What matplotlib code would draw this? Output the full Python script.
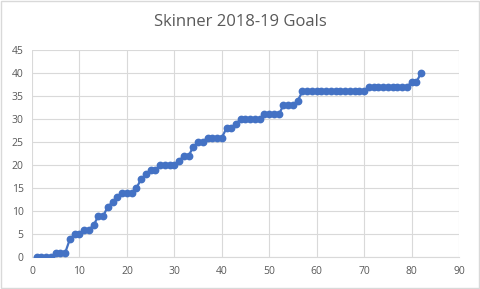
import matplotlib
matplotlib.use("Agg")
import matplotlib.pyplot as plt
from matplotlib.patches import Rectangle

# cumulative goals by game
games = list(range(1, 83))
level_values = [0, 1, 4, 5, 6, 7, 9, 11, 12, 13, 14, 15, 17, 18, 19, 20, 21, 22, 24, 25,
                26, 28, 29, 30, 31, 33, 34, 36, 37, 38, 40]
level_counts = [4, 3, 1, 2, 2, 1, 2, 1, 1, 1, 3, 1, 1, 1, 2, 4, 1, 2, 1, 2,
                4, 2, 1, 5, 4, 3, 1, 14, 9, 2, 1]
goals = []
for v, n in zip(level_values, level_counts):
    goals += [v] * n

x_ticks = list(range(0, 91, 10))
y_ticks = list(range(0, 46, 5))

blue = "#4472C4"
grey_text = "#595959"
grid_col = "#D9D9D9"

plt.rcParams['font.family'] = ['Open Sans', 'DejaVu Sans']

fig = plt.figure(figsize=(4.8, 2.89), dpi=100)
ax = fig.add_axes([32/480, 1 - 257.3/289, 427/480, 207.3/289])

ax.plot(games, goals, color=blue, linewidth=1.6, marker="o", markersize=4.6,
        markerfacecolor=blue, markeredgecolor=blue, zorder=3)

ax.set_xlim(0, 90)
ax.set_ylim(0, 45)
ax.set_xticks(x_ticks)
ax.set_yticks(y_ticks)
ax.grid(True, color=grid_col, linewidth=0.8)
ax.set_axisbelow(True)
for s in ["top", "right", "left"]:
    ax.spines[s].set_visible(False)
ax.spines["bottom"].set_color(grid_col)
ax.spines["bottom"].set_linewidth(0.8)
ax.tick_params(length=0, labelsize=7.5, labelcolor=grey_text, pad=6)

fig.text(0.5, 1 - 22/289, "Skinner 2018-19 Goals", ha="center", va="center",
         fontsize=12, color=grey_text)

fig.patches.append(Rectangle((0.002, 0.003), 0.995, 0.994, transform=fig.transFigure,
                             fill=False, edgecolor=grid_col, linewidth=1))

fig.savefig("out.png", dpi=100)
